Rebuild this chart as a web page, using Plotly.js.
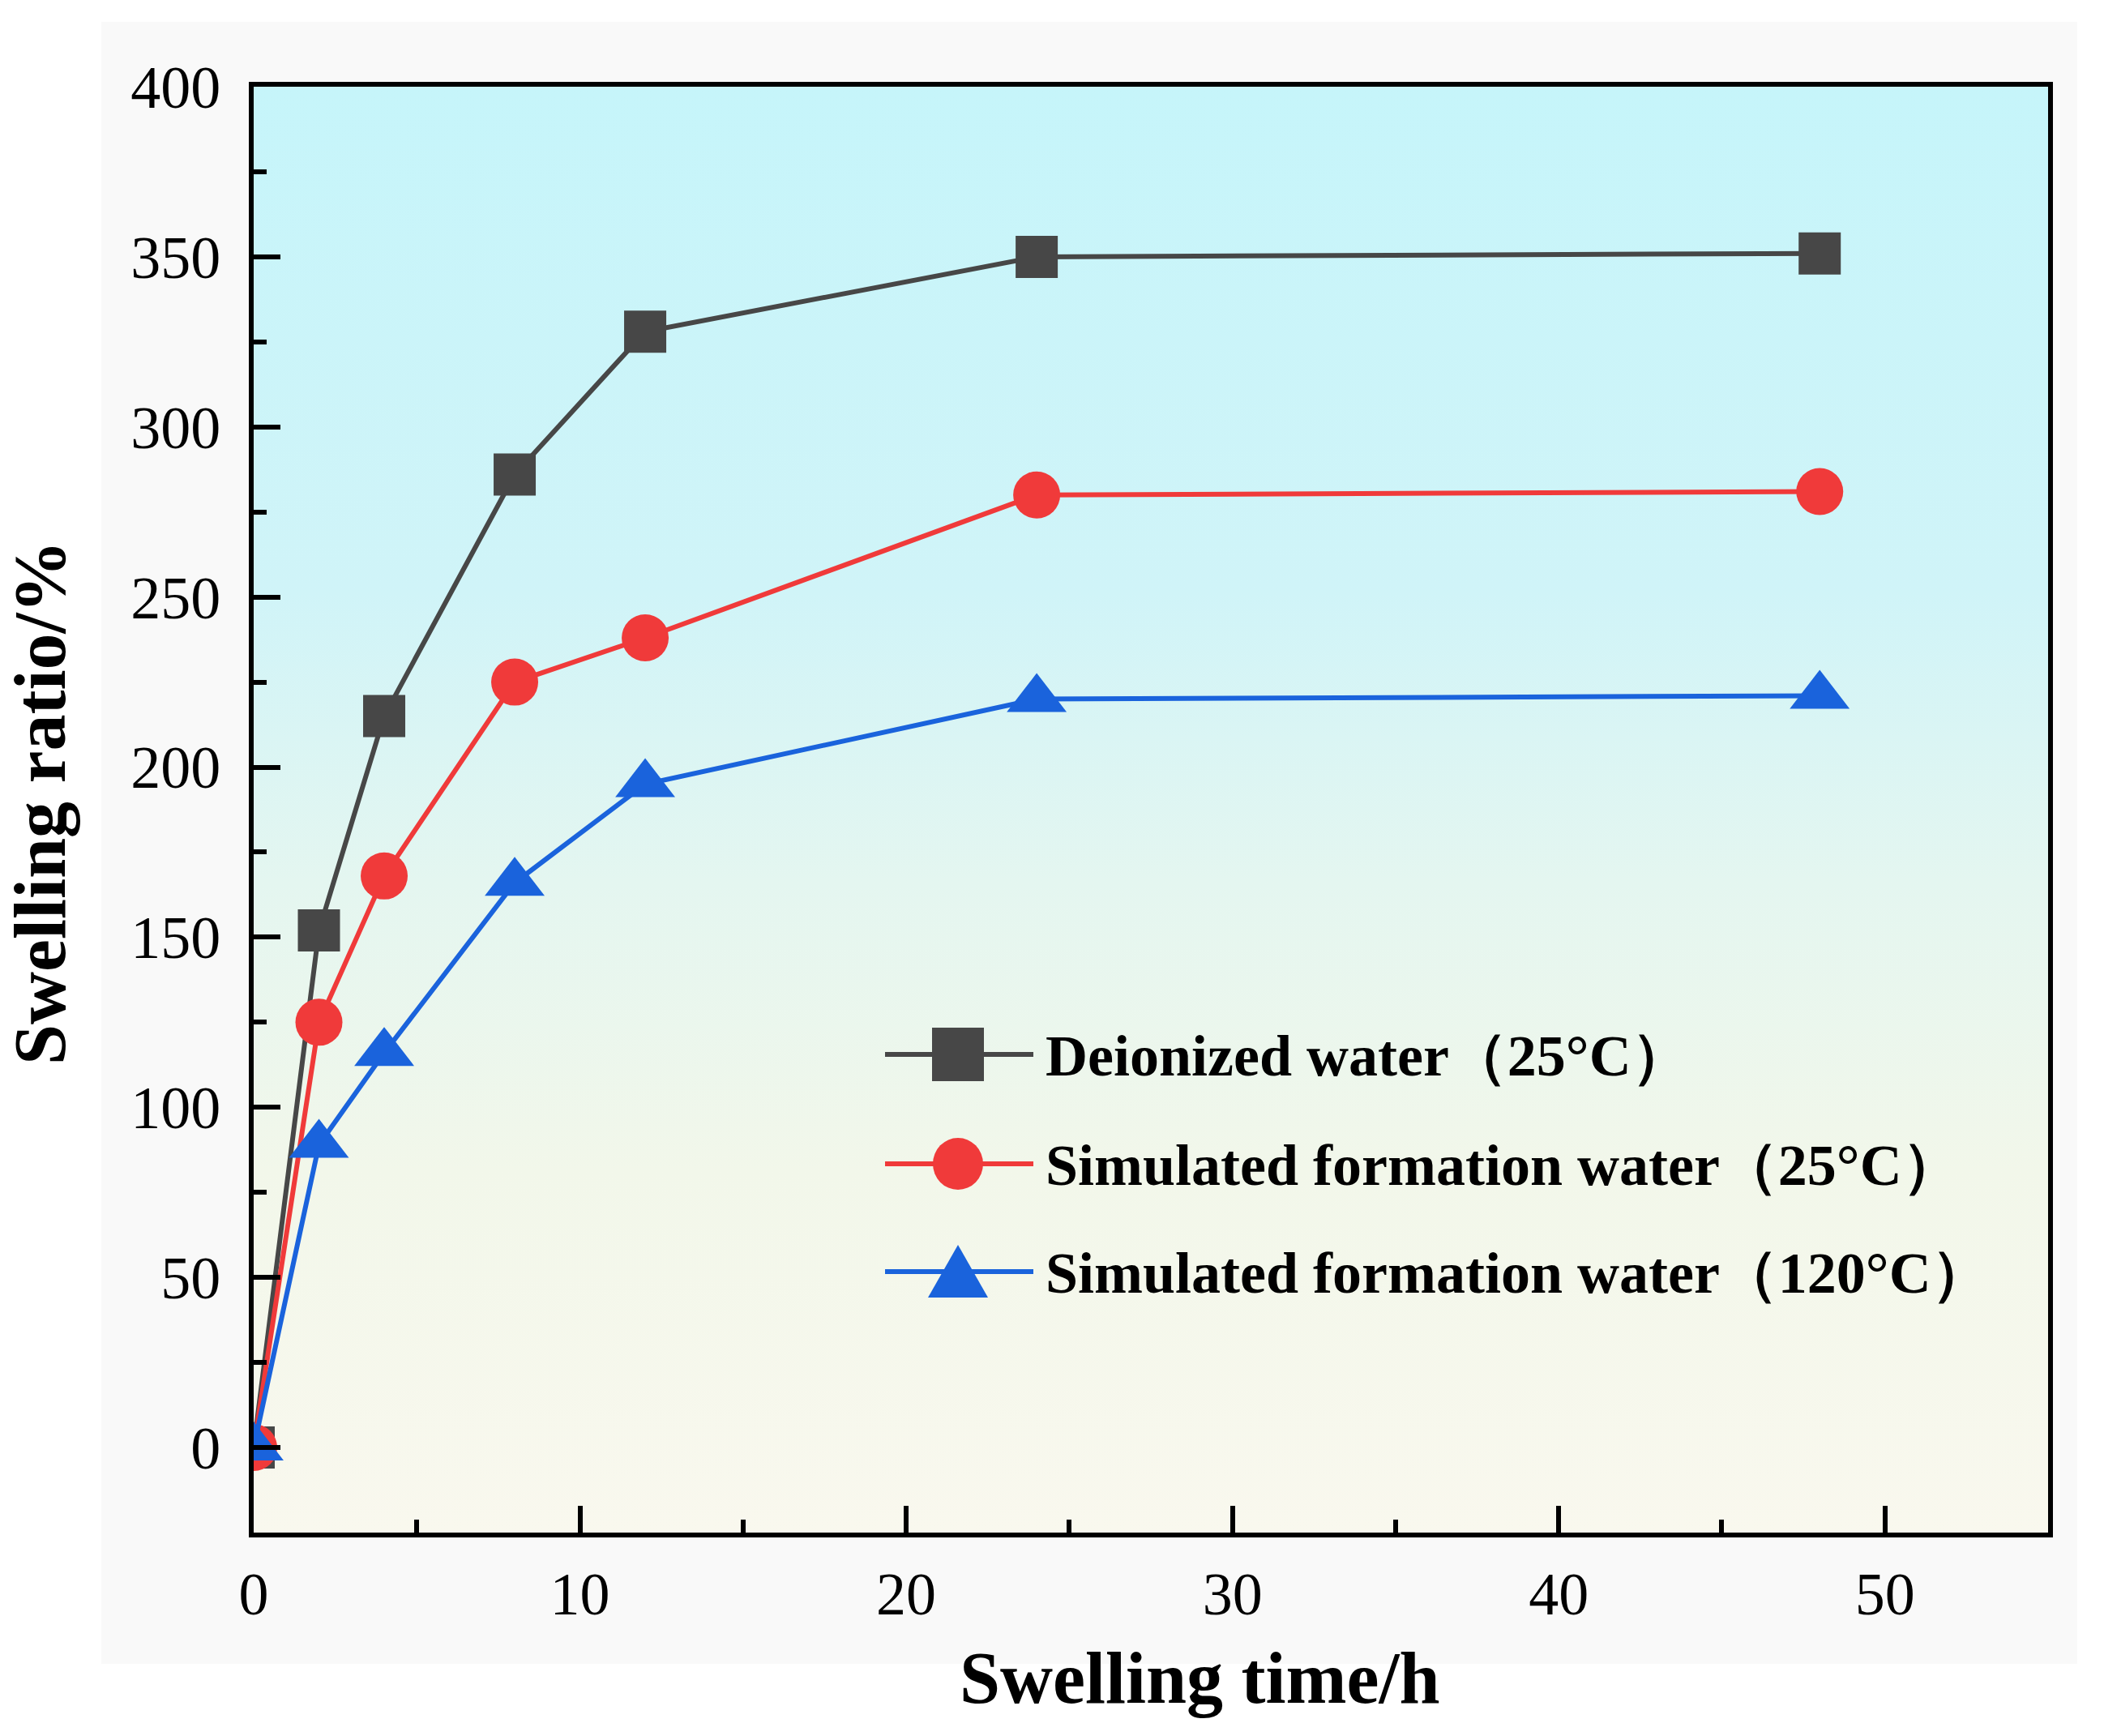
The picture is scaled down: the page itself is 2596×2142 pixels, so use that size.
<!DOCTYPE html>
<html>
<head>
<meta charset="utf-8">
<script src="https://cdn.plot.ly/plotly-3.0.1.min.js"></script>
<style>
	body { margin: 0; background: #ffffff; }
	#wrap { position: relative; width: 2596px; height: 2142px; overflow: hidden; }
	#frame_bg { position: absolute; left: 125px; top: 27px; width: 2438px; height: 2026px; background: #f9f9f9; }
	#plot_bg
	{
		position: absolute; left: 313px; top: 107px; width: 2214px; height: 1784px;
		background: linear-gradient(to bottom, #c6f5fa 0%, #d0f4f8 35%, #e4f6f0 55%, #f2f7ea 75%, #f9f8ee 100%);
	}
	#chart { position: absolute; left: 0; top: 0; }
</style>
</head>
<body>
<div id="wrap">
	<div id="frame_bg"></div>
	<div id="plot_bg"></div>
	<div id="chart"></div>
</div>
<script>
var time_h = [0, 2, 4, 8, 12, 24, 48];
var deionized_25 = [0, 152, 215, 286, 328, 350, 351];
var formation_25 = [0, 125, 168, 225, 238, 280, 281];
var formation_120 = [0, 89, 116, 166, 195, 220, 221];

var series_names = [
	"Deionized water（25°C）",
	"Simulated formation water（25°C）",
	"Simulated formation water（120°C）"
];

const W = 2596;
const H = 2142;
const M = {l: 313, r: 69, t: 107, b: 251};
const PW = W - M.l - M.r;
const PH = H - M.t - M.b;

// pixel -> paper helpers for the hand-made legend
function px(x) { return (x - M.l) / PW; }
function py(y) { return (H - M.b - y) / PH; }

var serif = "Liberation Serif, Times New Roman, serif";
var colors = ["#474747", "#f03a3a", "#1a63dc"];
var symbols = ["square", "circle", "triangle-up"];
var sizes = [52, 58, 64];
var values = [deionized_25, formation_25, formation_120];

var traces = values.map((v, i) =>
{
	return {
		type: "scatter",
		mode: "lines+markers",
		name: series_names[i],
		x: time_h,
		y: v,
		line: {color: colors[i], width: 6},
		marker: {color: colors[i], symbol: symbols[i], size: sizes[i], line: {width: 0}},
		showlegend: false
	};
});

// legend, drawn by hand so the glyphs can be as big as in the picture
var row_y = [1301, 1436, 1569];
var glyph_x = 1182;
var shapes = [];
var annotations = [];

row_y.forEach((y, i) =>
{
	shapes.push({
		type: "line", xref: "paper", yref: "paper",
		x0: px(1092), x1: px(1275), y0: py(y), y1: py(y),
		line: {color: colors[i], width: 6}
	});
	annotations.push({
		xref: "paper", yref: "paper", x: px(1288), y: py(y + 2),
		xanchor: "left", yanchor: "middle", showarrow: false,
		text: "<b>" + series_names[i] + "</b>",
		font: {family: serif, size: 72, color: "#000000"}
	});
});

shapes.push({
	type: "rect", xref: "paper", yref: "paper",
	x0: px(glyph_x - 32), x1: px(glyph_x + 32), y0: py(row_y[0] - 33), y1: py(row_y[0] + 33),
	fillcolor: colors[0], line: {width: 0}
});
shapes.push({
	type: "circle", xref: "paper", yref: "paper",
	x0: px(glyph_x - 31), x1: px(glyph_x + 31), y0: py(row_y[1] - 32), y1: py(row_y[1] + 32),
	fillcolor: colors[1], line: {width: 0}
});
shapes.push({
	type: "path", xref: "paper", yref: "paper",
	path: "M" + px(glyph_x - 37) + "," + py(row_y[2] + 32) +
		" L" + px(glyph_x + 37) + "," + py(row_y[2] + 32) +
		" L" + px(glyph_x) + "," + py(row_y[2] - 33) + " Z",
	fillcolor: colors[2], line: {width: 0}
});

annotations.push({
	xref: "paper", yref: "paper", x: px(1480), y: py(2070),
	xanchor: "center", yanchor: "middle", showarrow: false,
	text: "<b>Swelling time/h</b>",
	font: {family: serif, size: 90, color: "#000000"}
});
annotations.push({
	xref: "paper", yref: "paper", x: px(50), y: py(990),
	xanchor: "center", yanchor: "middle", showarrow: false, textangle: -90,
	text: "<b>Swelling ratio/%</b>",
	font: {family: serif, size: 90, color: "#000000"}
});

var axis_common =
{
	showline: true,
	mirror: true,
	linecolor: "#000000",
	linewidth: 6,
	ticks: "inside",
	ticklen: 33,
	tickwidth: 6,
	tickcolor: "#000000",
	showgrid: false,
	zeroline: false,
	tickfont: {family: serif, size: 74, color: "#000000"}
};

var layout =
{
	width: W,
	height: H,
	margin: M,
	paper_bgcolor: "rgba(0,0,0,0)",
	plot_bgcolor: "rgba(0,0,0,0)",
	showlegend: false,
	xaxis: Object.assign({}, axis_common, {
		range: [0, 55],
		tick0: 0,
		dtick: 10,
		ticklabelstandoff: 6,
		minor: {dtick: 5, ticks: "inside", ticklen: 16, tickwidth: 6, tickcolor: "#000000"}
	}),
	yaxis: Object.assign({}, axis_common, {
		range: [-25, 400],
		tick0: 0,
		dtick: 50,
		ticklabelstandoff: 20,
		minor: {dtick: 25, ticks: "inside", ticklen: 16, tickwidth: 6, tickcolor: "#000000"}
	}),
	shapes: shapes,
	annotations: annotations
};

Plotly.newPlot("chart", traces, layout, {displayModeBar: false, staticPlot: true});
</script>
</body>
</html>
